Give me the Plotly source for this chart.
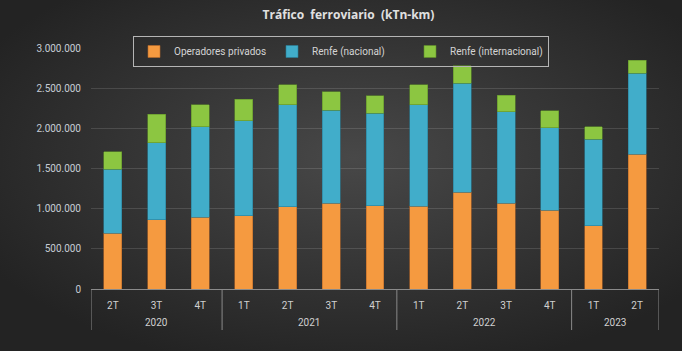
import urllib.parse
import plotly.graph_objects as go

# ---- data (kTn-km) ----
years = ["2020", "2020", "2020", "2021", "2021", "2021", "2021",
         "2022", "2022", "2022", "2022", "2023", "2023"]
quarters = ["2T", "3T", "4T", "1T", "2T", "3T", "4T",
            "1T", "2T", "3T", "4T", "1T", "2T"]
privados = [697000, 859000, 896000, 909000, 1025000, 1067000, 1037000,
            1033000, 1204000, 1067000, 983000, 788000, 1677000]
renfe_nacional = [793000, 962000, 1124000, 1186000, 1266000, 1161000, 1150000,
                  1258000, 1357000, 1140000, 1025000, 1076000, 1008000]
renfe_internacional = [219000, 357000, 271000, 266000, 249000, 228000, 216000,
                       249000, 215000, 208000, 208000, 156000, 162000]
series_names = ["Operadores privados", "Renfe (nacional)", "Renfe (internacional)"]
y_ticks = [0, 500000, 1000000, 1500000, 2000000, 2500000, 3000000]

colors = ["#f59a40", "#41adca", "#8cc641"]
edges = ["#b8692a", "#2a7f98", "#5f8f2a"]

W, H = 682, 351
ML, MR, MT, MB = 91, 23, 48, 62
PW, PH = W - ML - MR, H - MT - MB

pos = list(range(len(quarters)))

fig = go.Figure()
for name, vals, c, e in zip(series_names,
                            [privados, renfe_nacional, renfe_internacional],
                            colors, edges):
    fig.add_trace(go.Bar(
        x=pos, y=vals, name=name, width=0.41,
        customdata=[f"{q} {y}" for q, y in zip(quarters, years)],
        hovertemplate="%{customdata}: %{y:,d}<extra>" + name + "</extra>",
        marker=dict(color=c, line=dict(color=e, width=0.6)),
    ))

# year groups (derived from the years list)
groups = []
start = 0
for i in range(1, len(years) + 1):
    if i == len(years) or years[i] != years[start]:
        groups.append((years[start], start, i - 1))
        start = i

div_bottom = -(330 - 289) / PH
for yr, a, b in groups:
    fig.add_annotation(x=(a + b) / 2, y=-(322 - 289) / PH, xref="x", yref="paper",
                       text=yr, showarrow=False, yanchor="middle",
                       font=dict(size=10, color="#d0d0d0"))
bounds = [groups[0][1] - 0.5] + [b + 0.5 for _, _, b in groups]
for bx in bounds:
    fig.add_shape(type="line", xref="x", yref="paper", x0=bx, x1=bx,
                  y0=0, y1=div_bottom, line=dict(color="#8a8a8a", width=1))

svg = ('<svg xmlns="http://www.w3.org/2000/svg" width="682" height="351">'
       '<defs><radialGradient id="g" cx="52%" cy="45%" r="62%">'
       '<stop offset="0" stop-color="#484848"/>'
       '<stop offset="1" stop-color="#232323"/></radialGradient></defs>'
       '<rect width="682" height="351" fill="url(#g)"/></svg>')
bg = "data:image/svg+xml;charset=utf-8," + urllib.parse.quote(svg)

fig.update_layout(
    width=W, height=H,
    margin=dict(l=ML, r=MR, t=MT, b=MB, pad=0),
    barmode="stack",
    separators=",.",
    paper_bgcolor="#333333", plot_bgcolor="rgba(0,0,0,0)",
    font=dict(family="Roboto, 'Open Sans', sans-serif", size=10, color="#d0d0d0"),
    title=dict(text="<b>Tráfico&nbsp; ferroviario&nbsp; (kTn-km)</b>",
               x=0.511, xanchor="center", y=1 - 15 / H, yanchor="middle",
               font=dict(family="'Open Sans', sans-serif", size=12, color="#e0e0e0")),
    legend=dict(orientation="h", x=(133 - ML) / PW, xanchor="left",
                y=1 + (MT - 36) / PH, yanchor="top",
                bgcolor="rgba(0,0,0,0)", bordercolor="#b5b5b5", borderwidth=1,
                font=dict(size=10, color="#d4d4d4"),
                entrywidth=93, entrywidthmode="pixels",
                traceorder="normal", itemclick=False),
    showlegend=True,
    images=[dict(source=bg, xref="paper", yref="paper",
                 x=-ML / PW, y=1 + MT / PH, sizex=W / PW, sizey=H / PH,
                 xanchor="left", yanchor="top", sizing="stretch", layer="below")],
)
fig.update_xaxes(
    range=[-0.5, len(quarters) - 0.5], tickvals=pos, ticktext=quarters,
    showline=True, linecolor="#8a8a8a", linewidth=1,
    showgrid=False, zeroline=False, ticks="", ticklabelstandoff=7,
    tickfont=dict(size=10, color="#d0d0d0"),
)
fig.update_yaxes(
    range=[0, 3000000], tickvals=y_ticks, tickformat=",d",
    showgrid=True, gridcolor="rgba(255,255,255,0.13)", gridwidth=1,
    zeroline=False, showline=False, ticks="", ticklabelstandoff=9,
    tickfont=dict(size=10, color="#c6ccd4"),
)

fig.write_html("out.html")
